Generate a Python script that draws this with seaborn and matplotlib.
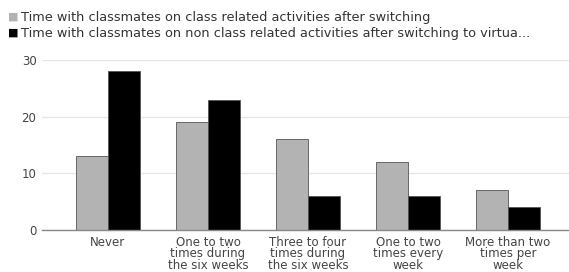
import numpy as np
import pandas as pd
import matplotlib
matplotlib.use("Agg")
import matplotlib.pyplot as plt
import seaborn as sns

categories = ["Never", "One to two\ntimes during\nthe six weeks", "Three to four\ntimes during\nthe six weeks",
              "One to two\ntimes every\nweek", "More than two\ntimes per\nweek"]
class_related = [13, 19, 16, 12, 7]
non_class_related = [28, 23, 6, 6, 4]
series_names = ["Time with classmates on class related activities after switching",
                "Time with classmates on non class related activities after switching to virtua..."]

df = pd.DataFrame({
    "category": categories * 2,
    "value": class_related + non_class_related,
    "series": [series_names[0]] * 5 + [series_names[1]] * 5,
})

sns.set_style("white")
plt.rcParams["font.family"] = ["DejaVu Sans"]

fig = plt.figure(figsize=(5.69, 2.72), dpi=100)
ax = fig.add_axes([42 / 569, 42 / 272, 527 / 569, 170 / 272])

sns.barplot(data=df, x="category", y="value", hue="series", order=categories,
            hue_order=series_names, palette=["#b3b3b3", "#000000"], width=0.64,
            edgecolor="#555555", linewidth=0.6, ax=ax, legend=False)

ax.set_ylim(0, 30)
ax.set_xlim(-0.66, 4.61)
ax.set_yticks([0, 10, 20, 30])
ax.yaxis.grid(True, color="#e6e6e6", linewidth=1)
ax.set_axisbelow(True)
for s in ["top", "right", "left"]:
    ax.spines[s].set_visible(False)
ax.spines["bottom"].set_color("#888888")
ax.spines["bottom"].set_linewidth(1)
ax.set_xlabel("")
ax.set_ylabel("")
ax.tick_params(axis="both", length=0, labelsize=8.5, colors="#444444", pad=4)
for lbl in ax.get_xticklabels():
    lbl.set_linespacing(0.88)

# legend at top left
for i, (name, col) in enumerate(zip(series_names, ["#b3b3b3", "#000000"])):
    y = 1 - (17 + i * 16) / 272
    fig.text(8 / 569, y, "\u25a0", color=col, fontsize=8, va="center", ha="left")
    fig.text(21 / 569, y, name, color="#333333", fontsize=9.3, va="center", ha="left")

fig.savefig("out.png", dpi=100, facecolor="white")
